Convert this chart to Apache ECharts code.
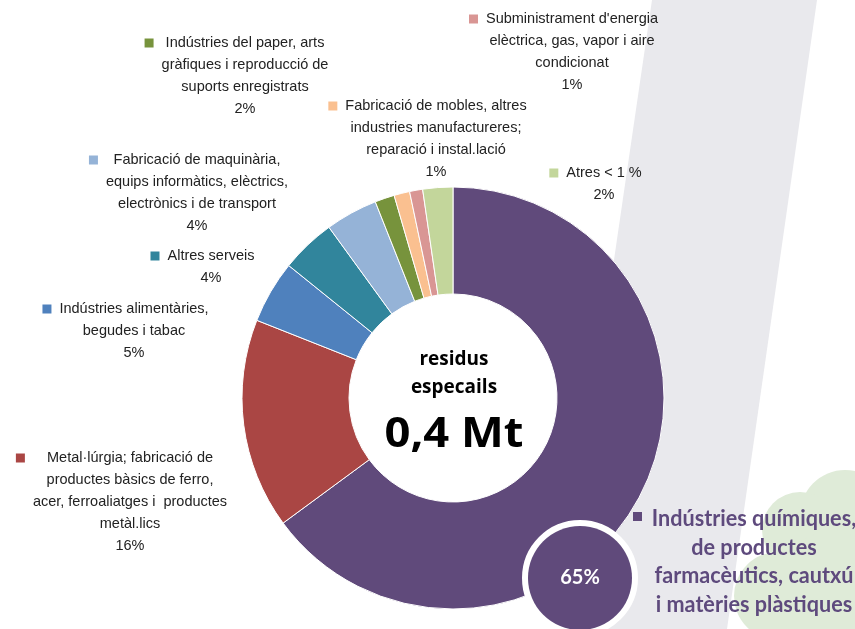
<!DOCTYPE html>
<html>
<head>
<meta charset="utf-8">
<script src="https://cdn.jsdelivr.net/npm/echarts@6/dist/echarts.min.js"></script>
<style>
html, body { margin: 0; padding: 0; background: #fff; }
#main { width: 855px; height: 629px; }
</style>
</head>
<body>
<div id="main"></div>
<script>
// sectors, clockwise from 12 o'clock
var categories = [
    'Indústries químiques,\nde productes\nfarmacèutics, cautxú\ni matèries plàstiques',
    'Metal·lúrgia; fabricació de\nproductes bàsics de ferro,\nacer, ferroaliatges i  productes\nmetàl.lics',
    'Indústries alimentàries,\nbegudes i tabac',
    'Altres serveis',
    'Fabricació de maquinària,\nequips informàtics, elèctrics,\nelectrònics i de transport',
    'Indústries del paper, arts\ngràfiques i reproducció de\nsuports enregistrats',
    'Fabricació de mobles, altres\nindustries manufactureres;\nreparació i instal.lació',
    "Subministrament d'energia\nelèctrica, gas, vapor i aire\ncondicionat",
    'Atres < 1 %'
];
var values = [64.9, 16.1, 4.8, 4.2, 4.0, 1.5, 1.2, 1.0, 2.3];
var pctLabels = ['65%', '16%', '5%', '4%', '4%', '2%', '1%', '1%', '2%'];
var colors = ['#604a7b', '#aa4644', '#4f81bd', '#31859c', '#95b3d7', '#77933c', '#fac090', '#d99694', '#c3d69b'];
var centreText = ['residus', 'especails', '0,4 Mt'];

// label placement: [centre x, middle of first line]
var labelPos = [[580, 578], [130, 458], [134, 309], [211, 256], [197, 160], [245, 43], [436, 106], [572, 19], [604, 173]];

var LBL_FONT = '"Liberation Sans", Arial, sans-serif';
var LBL_SIZE = 14.5;
var BIG_FONT = 'bold 23px Lato, sans-serif';
var MT_FONT = 'bold 42px "Open Sans", sans-serif';

var ctx = document.createElement('canvas').getContext('2d');
function textWidth(font, s) {
    ctx.font = font;
    return ctx.measureText(s).width;
}
// the original uses condensed faces: squeeze to the widths seen there
var bigScale = 199 / textWidth(BIG_FONT, 'farmacèutics, cautxú');
var mtScale = 139 / textWidth(MT_FONT, centreText[2]);

// key square sits just left of the widest line of each label
var rich = {
    h: { width: 9, height: 9 },
    bub: {
        width: 104, height: 104, lineHeight: 104, borderRadius: 52,
        backgroundColor: colors[0], borderColor: '#fff', borderWidth: 6,
        color: '#fff', fontSize: 20, fontWeight: 'bold', fontFamily: 'Lato, sans-serif', align: 'center'
    }
};
var labelText = categories.map(function(name, i) {
    if (i === 0) return '{bub|' + pctLabels[0] + '}';
    var lines = name.split('\n').concat(pctLabels[i]);
    var f = LBL_SIZE + 'px ' + LBL_FONT;
    var wmax = Math.max.apply(null, lines.map(function(l) { return textWidth(f, l); }));
    var gap = (wmax - textWidth(f, lines[0])) / 2 + 8;
    rich['sq' + i] = { width: 9, height: 9, backgroundColor: colors[i] };
    rich['g' + i] = { width: gap };
    lines[0] = '{sq' + i + '|}{g' + i + '|}' + lines[0] + '{g' + i + '|}{h|}';
    return lines.join('\n');
});

var myChart = echarts.init(document.getElementById('main'));

var option = {
    backgroundColor: '#fff',
    animation: false,
    graphic: [
        // background decoration
        { type: 'polygon', z: -10, silent: true, shape: { points: [[652, 0], [817, 0], [727, 629], [560, 629]] }, style: { fill: '#e9e9ed' } },
        { type: 'circle', z: -9, silent: true, shape: { cx: 845, cy: 515, r: 45 }, style: { fill: '#dfebd8' } },
        { type: 'circle', z: -9, silent: true, shape: { cx: 800, cy: 530, r: 38 }, style: { fill: '#dfebd8' } },
        { type: 'circle', z: -9, silent: true, shape: { cx: 778, cy: 596, r: 44 }, style: { fill: '#dfebd8' } },
        { type: 'circle', z: -9, silent: true, shape: { cx: 832, cy: 590, r: 58 }, style: { fill: '#dfebd8' } },
        // centre of the donut
        { type: 'text', z: 100, style: { x: 454, y: 360, text: centreText[0], textAlign: 'center', textVerticalAlign: 'middle', fill: '#000', font: 'bold 19px "Open Sans", sans-serif' } },
        { type: 'text', z: 100, style: { x: 454, y: 388, text: centreText[1], textAlign: 'center', textVerticalAlign: 'middle', fill: '#000', font: 'bold 19px "Open Sans", sans-serif' } },
        { type: 'text', z: 100, x: 454, y: 435, scaleX: mtScale, style: { x: 0, y: 0, text: centreText[2], textAlign: 'center', textVerticalAlign: 'middle', fill: '#000', font: MT_FONT } },
        // name of the main sector
        { type: 'rect', z: 100, shape: { x: 633, y: 512, width: 9, height: 9 }, style: { fill: colors[0] } },
        { type: 'text', z: 100, x: 754, y: 504.5, scaleX: bigScale, style: { x: 0, y: 0, text: categories[0], textAlign: 'center', textVerticalAlign: 'top', lineHeight: 28.5, fill: '#5e4a7d', font: BIG_FONT } }
    ],
    series: [
        {
            type: 'pie',
            center: [453, 398],
            radius: [104, 211],
            startAngle: 90,
            clockwise: true,
            avoidLabelOverlap: false,
            itemStyle: { borderColor: '#fff', borderWidth: 1 },
            emphasis: { disabled: true },
            label: {
                show: true,
                position: 'outside',
                formatter: function(p) { return labelText[p.dataIndex]; },
                fontSize: LBL_SIZE,
                fontFamily: LBL_FONT,
                color: '#222',
                lineHeight: 22,
                rich: rich
            },
            labelLine: { show: false },
            labelLayout: function(p) {
                var pos = labelPos[p.dataIndex];
                if (p.dataIndex === 0) {
                    return { x: pos[0], y: pos[1], align: 'center', verticalAlign: 'middle' };
                }
                return { x: pos[0], y: pos[1] - 11, align: 'center', verticalAlign: 'top' };
            },
            data: values.map(function(v, i) {
                return { value: v, name: categories[i], itemStyle: { color: colors[i] } };
            })
        }
    ]
};

myChart.setOption(option);
</script>
</body>
</html>
